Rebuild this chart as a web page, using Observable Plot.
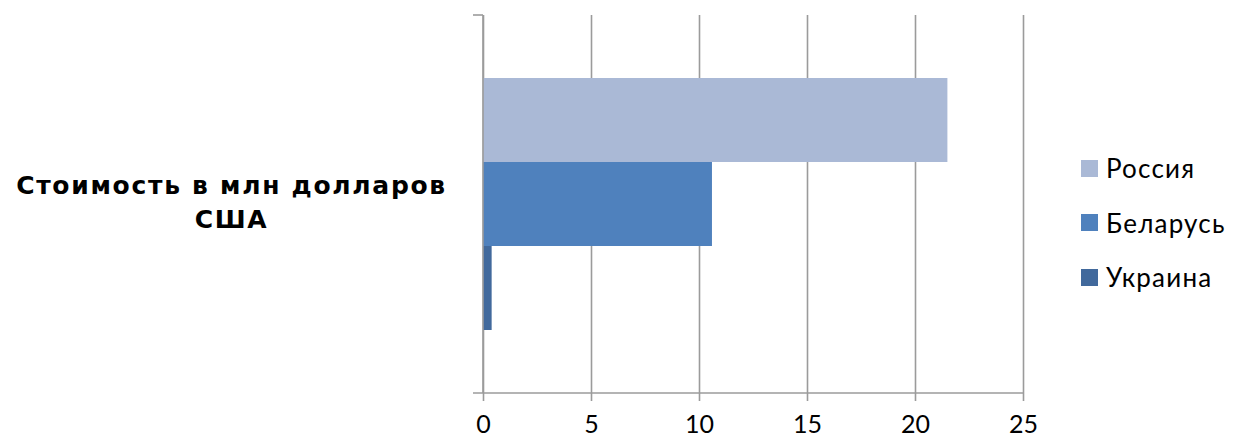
<!DOCTYPE html>
<html>
<head>
<meta charset="utf-8">
<script src="https://cdn.jsdelivr.net/npm/d3@7"></script>
<script src="https://cdn.jsdelivr.net/npm/@observablehq/plot@0.6"></script>
<style>
  body { margin: 0; background: #fff; }
  #wrap { position: relative; width: 1235px; height: 437px; }
  #chart { position: absolute; left: 0; top: 0; }
  #legend { position: absolute; left: 1081px; top: 141px; font-family: Lato, "Open Sans", sans-serif; font-size: 26px; letter-spacing: 1.2px; color: #000; }
  .item { display: flex; align-items: center; height: 54.5px; }
  .sw { width: 17px; height: 17px; margin-right: 8px; }
  .fy-lab text { font-family: "DejaVu Sans", sans-serif; font-weight: bold; font-size: 25px; letter-spacing: 1.7px; }
</style>
</head>
<body>
<div id="wrap"><div id="chart"></div><div id="legend"></div></div>
<script>
const categories = ["Стоимость в млн долларов США"];
const countries = ["Россия", "Беларусь", "Украина"];
const values = [21.5, 10.6, 0.4];
const colors = ["#AAB9D6", "#4F81BD", "#41699C"];
const xTicks = [0, 5, 10, 15, 20, 25];

const rows = countries.map((c, i) => ({category: categories[0], country: c, value: values[i]}));
const axisColor = "#9b9b9b";

const axisFrame = (index, scales, values, dim) => {
  const g = d3.create("svg:g").attr("stroke", axisColor).attr("stroke-width", 1.6).attr("fill", "none");
  const x0 = scales.x(0), x1 = scales.x(25);
  const top = dim.marginTop, bottom = dim.height - dim.marginBottom;
  g.append("line").attr("x1", x0).attr("x2", x0).attr("y1", top).attr("y2", bottom);
  g.append("line").attr("x1", x0 - 10).attr("x2", x0).attr("y1", top).attr("y2", top);
  g.append("line").attr("x1", x0 - 10).attr("x2", x1).attr("y1", bottom).attr("y2", bottom);
  return g.node();
};

const chart = Plot.plot({
  width: 1060,
  height: 437,
  marginLeft: 483,
  marginRight: 37,
  marginTop: 15,
  marginBottom: 44,
  style: {fontFamily: "Lato, 'Open Sans', sans-serif", fontSize: "25px", color: "#000", background: "#fff"},
  x: {domain: [0, 25], ticks: xTicks},
  fy: {domain: categories, padding: 0},
  y: {domain: countries, paddingInner: 0, paddingOuter: 0.75, axis: null},
  color: {domain: countries, range: colors},
  marks: [
    Plot.gridX(xTicks, {stroke: axisColor, strokeOpacity: 1, strokeWidth: 1.6}),
    Plot.barX(rows, {x: "value", y: "country", fy: "category", fill: "country"}),
    axisFrame,
    Plot.axisX(xTicks, {tickSize: 8, tickPadding: 14, stroke: axisColor, strokeWidth: 1.6, fontSize: 25, fill: "#000", label: null}),
    Plot.axisFy({anchor: "left", tickSize: 0, tickPadding: 0, textAnchor: "middle", dx: -252, dy: -4,
      lineWidth: 15, lineHeight: 1.36, fontSize: 25, fill: "#000", label: null, className: "fy-lab"})
  ]
});
document.getElementById("chart").appendChild(chart);

const legend = document.getElementById("legend");
countries.forEach((c, i) => {
  const item = document.createElement("div");
  item.className = "item";
  const sw = document.createElement("div");
  sw.className = "sw";
  sw.style.background = colors[i];
  const t = document.createElement("span");
  t.textContent = c;
  item.appendChild(sw);
  item.appendChild(t);
  legend.appendChild(item);
});
</script>
</body>
</html>
